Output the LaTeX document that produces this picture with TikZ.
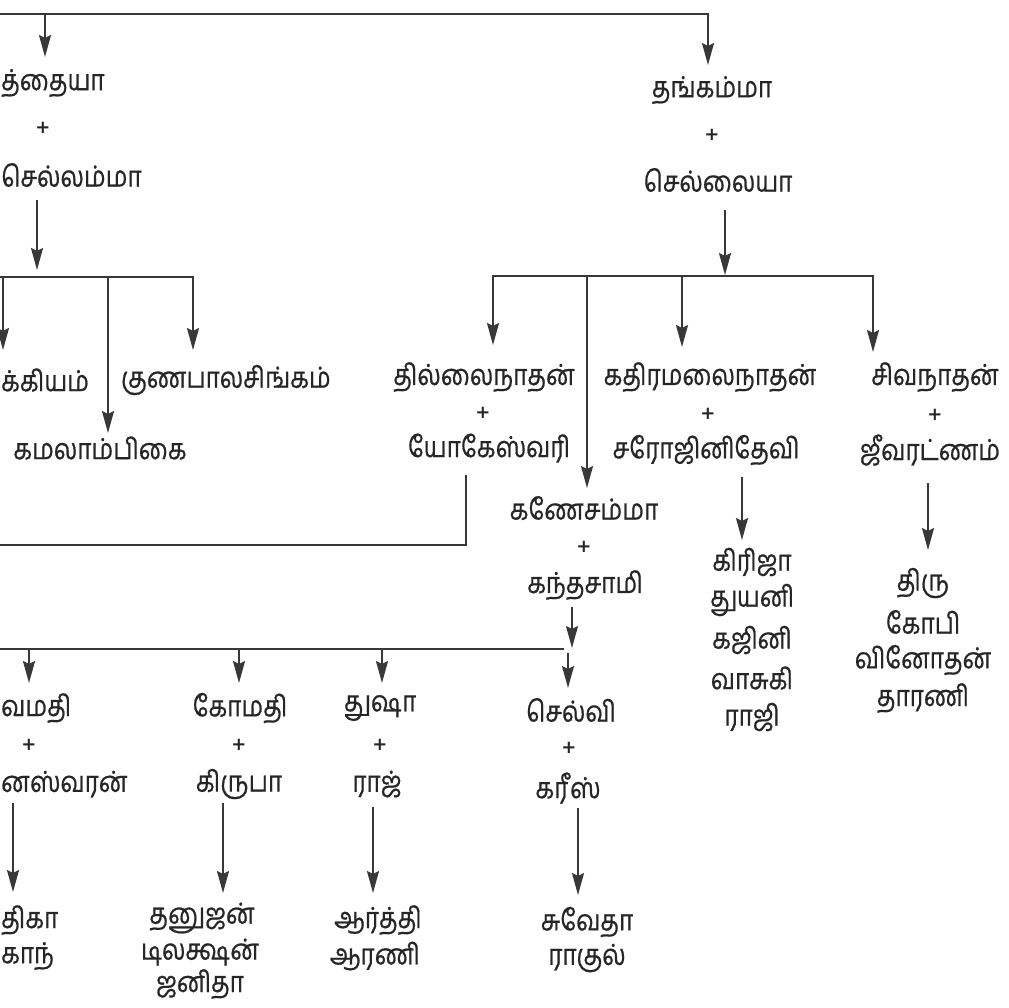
\documentclass[tikz,border=0pt]{standalone}
\usepackage{fontspec}
\newfontfamily\ta[Script=Tamil,FakeStretch=0.84,FakeBold=0.6]{Hind Madurai}
\newfontfamily\plf{DejaVu Sans}
\usetikzlibrary{arrows.meta}
\definecolor{ink}{HTML}{262626}
\definecolor{linec}{HTML}{383838}
\begin{document}
\begin{tikzpicture}[x=1pt,y=-1pt,
  nm/.style={font=\ta\fontsize{29}{32}\selectfont, text=ink, inner sep=0pt},
  pl/.style={font=\plf\bfseries\fontsize{18}{18}\selectfont, text=ink, inner sep=0pt},
  ln/.style={draw=linec, line width=2pt},
  arr/.style={ln, -{Stealth[length=22pt,width=12pt,inset=3pt]}},
  darr/.style={ln, {Stealth[length=22pt,width=12pt,inset=3pt]}-{Stealth[length=22pt,width=12pt,inset=3pt]}},
]
\useasboundingbox (0,0) rectangle (1009,1007);
\fill[white] (0,0) rectangle (1009,1007);

% ---------- generation 1 ----------
\node[nm, anchor=west] (muth) at (1,83) {த்தையா};
\node[pl] (p1) at (43,128) {+};
\node[nm, anchor=west] (sellam) at (1,175) {செல்லம்மா};

\node[nm] (thang) at (712,90) {தங்கம்மா};
\node[pl] (p2) at (712,135) {+};
\node[nm] (sellai) at (718,180) {செல்லையா};

\coordinate (top0) at (0,14);
\coordinate (topL) at (45,14);
\coordinate (topR) at (708,14);
\coordinate (tipL) at (45,57);
\coordinate (tipR) at (708,65);
\draw[arr] (top0) -- (topR) -- (tipR);
\draw[arr] (topL) -- (tipL);

% ---------- left family ----------
\coordinate (la) at (37,200);
\coordinate (lat) at (37,270);
\draw[arr] (la) -- (lat);
\coordinate (lb0) at (0,277);
\coordinate (lb1) at (3,277);
\coordinate (lb2) at (108,277);
\coordinate (lb3) at (193,277);
\coordinate (lt1) at (3,350);
\coordinate (lt2) at (108,433);
\coordinate (lt3) at (193,350);
\draw[arr] (lb0) -- (lb3) -- (lt3);
\draw[arr] (lb1) -- (lt1);
\draw[arr] (lb2) -- (lt2);

\node[nm, anchor=west] (pakk) at (1,380) {க்கியம்};
\node[nm] (guna) at (226,380) {குணபாலசிங்கம்};
\node[nm] (kamal) at (100,448) {கமலாம்பிகை};

% ---------- right family ----------
\coordinate (ra) at (725,210);
\coordinate (rat) at (725,275);
\draw[arr] (ra) -- (rat);
\coordinate (rb1) at (493,276);
\coordinate (rb2) at (587,276);
\coordinate (rb3) at (682,276);
\coordinate (rb4) at (873,276);
\coordinate (rt1) at (493,345);
\coordinate (rt2) at (587,488);
\coordinate (rt3) at (682,347);
\coordinate (rt4) at (873,352);
\draw[darr] (rt1) -- (rb1) -- (rb4) -- (rt4);
\draw[arr] (rb2) -- (rt2);
\draw[arr] (rb3) -- (rt3);

\node[nm] (thil) at (484,377) {தில்லைநாதன்};
\node[pl] (p3) at (483,413) {+};
\node[nm] (yoga) at (489,448) {யோகேஸ்வரி};

\node[nm] (kathi) at (710,377) {கதிரமலைநாதன்};
\node[pl] (p4) at (708,414) {+};
\node[nm] (saro) at (706,450) {சரோஜினிதேவி};

\node[nm] (siva) at (935,377) {சிவநாதன்};
\node[pl] (p5) at (935,415) {+};
\node[nm] (jeeva) at (930,450) {ஜீவரட்ணம்};

\node[nm] (kane) at (584,508) {கணேசம்மா};
\node[pl] (p6) at (584,547) {+};
\node[nm] (kant) at (585,585) {கந்தசாமி};

% Yogeswari line to the left
\coordinate (ya) at (466,475);
\coordinate (yb) at (466,545);
\coordinate (yc) at (0,545);
\draw[ln] (ya) -- (yb) -- (yc);

% Sarojinidevi children
\coordinate (sa) at (742,477);
\coordinate (st) at (742,540);
\draw[arr] (sa) -- (st);
\node[nm] (c1) at (752,562) {கிரிஜா};
\node[nm] (c2) at (752,600) {துயனி};
\node[nm] (c3) at (752,640) {கஜினி};
\node[nm] (c4) at (752,678) {வாசுகி};
\node[nm] (c5) at (752,717) {ராஜி};

% Jeevaratnam children
\coordinate (ja) at (928,483);
\coordinate (jt) at (928,550);
\draw[arr] (ja) -- (jt);
\node[nm] (d1) at (923,583) {திரு};
\node[nm] (d2) at (923,622) {கோபி};
\node[nm] (d3) at (923,660) {வினோதன்};
\node[nm] (d4) at (923,698) {தாரணி};

% ---------- Kanesamma family ----------
\coordinate (ka) at (572,607);
\coordinate (kat) at (572,648);
\draw[arr] (ka) -- (kat);
\coordinate (kb0) at (0,649);
\coordinate (kb1) at (29,649);
\coordinate (kb2) at (239,649);
\coordinate (kb3) at (382,649);
\coordinate (kb4) at (564,649);
\coordinate (kt1) at (29,683);
\coordinate (kt2) at (239,683);
\coordinate (kt3) at (382,683);
\draw[ln] (kb0) -- (kb4);
\draw[arr] (kb1) -- (kt1);
\draw[arr] (kb2) -- (kt2);
\draw[arr] (kb3) -- (kt3);
\coordinate (kd) at (568,653);
\coordinate (kdt) at (568,688);
\draw[arr] (kd) -- (kdt);

\node[nm, anchor=west] (sivam) at (1,708) {வமதி};
\node[pl] (p7) at (29,745) {+};
\node[nm, anchor=west] (gnan) at (1,784) {னஸ்வரன்};

\node[nm] (goma) at (240,708) {கோமதி};
\node[pl] (p8) at (239,745) {+};
\node[nm] (kiru) at (239,784) {கிருபா};

\node[nm] (thus) at (380,708) {துஷா};
\node[pl] (p9) at (380,745) {+};
\node[nm] (raj) at (377,784) {ராஜ்};

\node[nm] (selv) at (571,710) {செல்வி};
\node[pl] (p10) at (569,748) {+};
\node[nm] (karees) at (568,788) {கரீஸ்};

% grandchildren
\coordinate (ga) at (13,803);
\coordinate (gat) at (13,892);
\draw[arr] (ga) -- (gat);
\node[nm, anchor=west] (e1) at (1,920) {திகா};
\node[nm, anchor=west] (e2) at (1,956) {காந்};

\coordinate (gb) at (223,803);
\coordinate (gbt) at (223,893);
\draw[arr] (gb) -- (gbt);
\node[nm] (f1) at (202,918) {தனுஜன்};
\node[nm] (f2) at (200,952) {டிலக்ஷன்};
\node[nm] (f3) at (200,984) {ஜனிதா};

\coordinate (gc) at (373,807);
\coordinate (gct) at (373,893);
\draw[arr] (gc) -- (gct);
\node[nm] (h1) at (378,920) {ஆர்த்தி};
\node[nm] (h2) at (375,956) {ஆரணி};

\coordinate (gd) at (578,808);
\coordinate (gdt) at (578,895);
\draw[arr] (gd) -- (gdt);
\node[nm] (i1) at (587,922) {சுவேதா};
\node[nm] (i2) at (587,958) {ராகுல்};
\end{tikzpicture}
\end{document}
